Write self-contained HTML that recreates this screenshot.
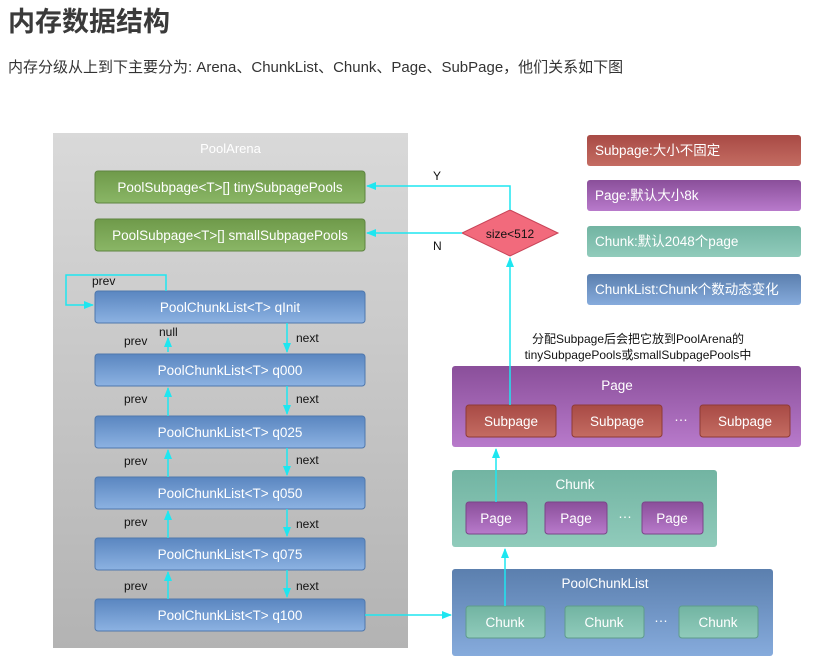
<!DOCTYPE html>
<html><head><meta charset="utf-8"><style>
html,body{margin:0;padding:0;background:#fff;width:820px;height:667px;overflow:hidden}
svg{display:block}
text{font-family:"Liberation Sans","Noto Sans CJK SC",sans-serif}
</style></head><body>
<svg width="820" height="667" viewBox="0 0 820 667" xmlns="http://www.w3.org/2000/svg">
<defs>
<linearGradient id="gArena" x1="0" y1="0" x2="0" y2="1"><stop offset="0" stop-color="#d9d9d9"/><stop offset="1" stop-color="#b3b3b3"/></linearGradient>
<linearGradient id="gGreen" x1="0" y1="0" x2="0" y2="1"><stop offset="0" stop-color="#6f9a4a"/><stop offset="1" stop-color="#8ab666"/></linearGradient>
<linearGradient id="gBlue" x1="0" y1="0" x2="0" y2="1"><stop offset="0" stop-color="#5a86c0"/><stop offset="1" stop-color="#8cb2e2"/></linearGradient>
<linearGradient id="gRed" x1="0" y1="0" x2="0" y2="1"><stop offset="0" stop-color="#a84a45"/><stop offset="1" stop-color="#c46c62"/></linearGradient>
<linearGradient id="gPurple" x1="0" y1="0" x2="0" y2="1"><stop offset="0" stop-color="#8a4f9a"/><stop offset="1" stop-color="#b87acb"/></linearGradient>
<linearGradient id="gTeal" x1="0" y1="0" x2="0" y2="1"><stop offset="0" stop-color="#72b4a2"/><stop offset="1" stop-color="#90cbbb"/></linearGradient>
<linearGradient id="gBlueBig" x1="0" y1="0" x2="0" y2="1"><stop offset="0" stop-color="#5b7fae"/><stop offset="1" stop-color="#86abdc"/></linearGradient>
<marker id="ar" markerWidth="10" markerHeight="10" refX="9" refY="5" orient="auto" markerUnits="userSpaceOnUse"><path d="M0,1 L10,5 L0,9 z" fill="#1ee6f0"/></marker>
</defs>

<text x="8" y="31" font-size="27" font-weight="bold" fill="#3a3a3a">内存数据结构</text>
<text x="8" y="72" font-size="15" fill="#333">内存分级从上到下主要分为: Arena、ChunkList、Chunk、Page、SubPage，他们关系如下图</text>

<rect x="53" y="133" width="355" height="515" fill="url(#gArena)"/>
<text x="230.5" y="153" font-size="13" fill="#fff" text-anchor="middle">PoolArena</text>

<g font-size="13.5" fill="#fff" text-anchor="middle">
<rect x="95" y="171" width="270" height="32" rx="3" fill="url(#gGreen)" stroke="#5e8440"/>
<text x="230" y="192">PoolSubpage&lt;T&gt;[] tinySubpagePools</text>
<rect x="95" y="219" width="270" height="32" rx="3" fill="url(#gGreen)" stroke="#5e8440"/>
<text x="230" y="240">PoolSubpage&lt;T&gt;[] smallSubpagePools</text>

<rect x="95" y="291" width="270" height="32" rx="3" fill="url(#gBlue)" stroke="#4f78ad"/>
<text x="230" y="312">PoolChunkList&lt;T&gt; qInit</text>
<rect x="95" y="354" width="270" height="32" rx="3" fill="url(#gBlue)" stroke="#4f78ad"/>
<text x="230" y="375">PoolChunkList&lt;T&gt; q000</text>
<rect x="95" y="416" width="270" height="32" rx="3" fill="url(#gBlue)" stroke="#4f78ad"/>
<text x="230" y="437">PoolChunkList&lt;T&gt; q025</text>
<rect x="95" y="477" width="270" height="32" rx="3" fill="url(#gBlue)" stroke="#4f78ad"/>
<text x="230" y="498">PoolChunkList&lt;T&gt; q050</text>
<rect x="95" y="538" width="270" height="32" rx="3" fill="url(#gBlue)" stroke="#4f78ad"/>
<text x="230" y="559">PoolChunkList&lt;T&gt; q075</text>
<rect x="95" y="599" width="270" height="32" rx="3" fill="url(#gBlue)" stroke="#4f78ad"/>
<text x="230" y="620">PoolChunkList&lt;T&gt; q100</text>
</g>

<g font-size="12" fill="#111">
<text x="92" y="285">prev</text>
<text x="159" y="336">null</text>
<text x="124" y="345">prev</text><text x="296" y="342">next</text>
<text x="124" y="403">prev</text><text x="296" y="403">next</text>
<text x="124" y="465">prev</text><text x="296" y="464">next</text>
<text x="124" y="526">prev</text><text x="296" y="528">next</text>
<text x="124" y="590">prev</text><text x="296" y="590">next</text>
<text x="433" y="180">Y</text>
<text x="433" y="250">N</text>
</g>

<polygon points="510,210 558,233 510,256 462,233" fill="#f26a7c" stroke="#c84458"/>
<text x="510" y="238" font-size="12" fill="#111" text-anchor="middle">size&lt;512</text>

<g font-size="13.5" fill="#fff">
<rect x="587" y="135" width="214" height="31" rx="3" fill="url(#gRed)"/>
<text x="595" y="155">Subpage:大小不固定</text>
<rect x="587" y="180" width="214" height="31" rx="3" fill="url(#gPurple)"/>
<text x="595" y="200">Page:默认大小8k</text>
<rect x="587" y="226" width="214" height="31" rx="3" fill="url(#gTeal)"/>
<text x="595" y="246">Chunk:默认2048个page</text>
<rect x="587" y="274" width="214" height="31" rx="3" fill="url(#gBlueBig)"/>
<text x="595" y="294">ChunkList:Chunk个数动态变化</text>
</g>

<text x="638" y="343" font-size="12" fill="#111" text-anchor="middle">分配Subpage后会把它放到PoolArena的</text>
<text x="638" y="359" font-size="12" fill="#111" text-anchor="middle">tinySubpagePools或smallSubpagePools中</text>

<g font-size="13.5" fill="#fff" text-anchor="middle">
<rect x="452" y="366" width="349" height="81" rx="3" fill="url(#gPurple)"/>
<text x="617" y="390">Page</text>
<rect x="466" y="405" width="90" height="32" rx="3" fill="url(#gRed)" stroke="#8e3b36"/>
<text x="511" y="426">Subpage</text>
<rect x="572" y="405" width="90" height="32" rx="3" fill="url(#gRed)" stroke="#8e3b36"/>
<text x="617" y="426">Subpage</text>
<text x="681" y="424">···</text>
<rect x="700" y="405" width="90" height="32" rx="3" fill="url(#gRed)" stroke="#8e3b36"/>
<text x="745" y="426">Subpage</text>

<rect x="452" y="470" width="265" height="77" rx="3" fill="url(#gTeal)"/>
<text x="575" y="489">Chunk</text>
<rect x="466" y="502" width="61" height="32" rx="3" fill="url(#gPurple)" stroke="#7b4589"/>
<text x="496" y="523">Page</text>
<rect x="545" y="502" width="62" height="32" rx="3" fill="url(#gPurple)" stroke="#7b4589"/>
<text x="576" y="523">Page</text>
<text x="625" y="521">···</text>
<rect x="642" y="502" width="61" height="32" rx="3" fill="url(#gPurple)" stroke="#7b4589"/>
<text x="672" y="523">Page</text>

<rect x="452" y="569" width="321" height="87" rx="3" fill="url(#gBlueBig)"/>
<text x="605" y="588">PoolChunkList</text>
<rect x="466" y="606" width="79" height="32" rx="3" fill="url(#gTeal)" stroke="#5e9c8b"/>
<text x="505" y="627">Chunk</text>
<rect x="565" y="606" width="79" height="32" rx="3" fill="url(#gTeal)" stroke="#5e9c8b"/>
<text x="604" y="627">Chunk</text>
<text x="661" y="625">···</text>
<rect x="679" y="606" width="79" height="32" rx="3" fill="url(#gTeal)" stroke="#5e9c8b"/>
<text x="718" y="627">Chunk</text>
</g>

<g stroke="#1ee6f0" stroke-width="1.5" fill="none">
<path d="M166,291 V275 H66 V305 H93" marker-end="url(#ar)"/>
<path d="M168,352 V338" marker-end="url(#ar)"/>
<path d="M287,323 V352" marker-end="url(#ar)"/>
<path d="M287,386 V414" marker-end="url(#ar)"/>
<path d="M168,416 V388" marker-end="url(#ar)"/>
<path d="M287,448 V475" marker-end="url(#ar)"/>
<path d="M168,477 V450" marker-end="url(#ar)"/>
<path d="M287,509 V536" marker-end="url(#ar)"/>
<path d="M168,538 V511" marker-end="url(#ar)"/>
<path d="M287,570 V597" marker-end="url(#ar)"/>
<path d="M168,599 V572" marker-end="url(#ar)"/>
<path d="M365,615 H451" marker-end="url(#ar)"/>
<path d="M510,210 V186 H367" marker-end="url(#ar)"/>
<path d="M462,233 H367" marker-end="url(#ar)"/>
<path d="M510,405 V258" marker-end="url(#ar)"/>
<path d="M496,502 V449" marker-end="url(#ar)"/>
<path d="M505,606 V549" marker-end="url(#ar)"/>
</g>
</svg>
</body></html>
